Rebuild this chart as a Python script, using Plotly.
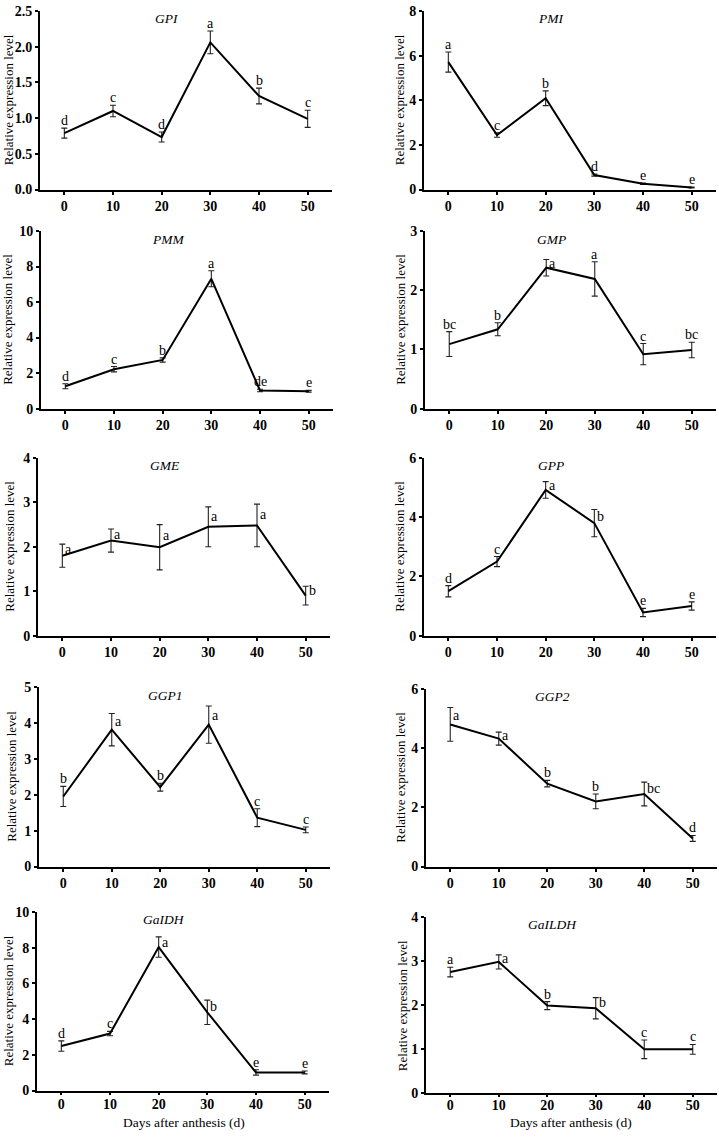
import plotly.graph_objects as go

DAYS = [0, 10, 20, 30, 40, 50]
GENES = ["GPI", "PMI", "PMM", "GMP", "GME", "GPP", "GGP1", "GGP2", "GaIDH", "GaILDH"]

GPI_MEAN = [0.79, 1.10, 0.735, 2.06, 1.31, 0.99]
GPI_ERR = [0.07, 0.08, 0.07, 0.16, 0.11, 0.12]
GPI_LET = ["d", "c", "d", "a", "b", "c"]
GPI_SIDE = ["t", "t", "t", "t", "t", "t"]

PMI_MEAN = [5.71, 2.44, 4.09, 0.65, 0.26, 0.09]
PMI_ERR = [0.45, 0.10, 0.33, 0.05, 0.03, 0.02]
PMI_LET = ["a", "c", "b", "d", "e", "e"]
PMI_SIDE = ["t", "t", "t", "t", "t", "t"]

PMM_MEAN = [1.26, 2.22, 2.74, 7.31, 1.02, 0.98]
PMM_ERR = [0.14, 0.15, 0.12, 0.45, 0.07, 0.05]
PMM_LET = ["d", "c", "b", "a", "de", "e"]
PMM_SIDE = ["t", "t", "t", "t", "t", "t"]

GMP_MEAN = [1.09, 1.34, 2.38, 2.19, 0.92, 0.99]
GMP_ERR = [0.21, 0.11, 0.14, 0.29, 0.18, 0.13]
GMP_LET = ["bc", "b", "a", "a", "c", "bc"]
GMP_SIDE = ["t", "t", "r", "t", "t", "t"]

GME_MEAN = [1.80, 2.14, 1.99, 2.45, 2.48, 0.90]
GME_ERR = [0.26, 0.26, 0.51, 0.45, 0.48, 0.21]
GME_LET = ["a", "a", "a", "a", "a", "b"]
GME_SIDE = ["r", "r", "r", "r", "r", "r"]

GPP_MEAN = [1.50, 2.50, 4.92, 3.80, 0.78, 1.00]
GPP_ERR = [0.19, 0.17, 0.28, 0.46, 0.14, 0.14]
GPP_LET = ["d", "c", "a", "b", "e", "e"]
GPP_SIDE = ["t", "t", "r", "r", "t", "t"]

GGP1_MEAN = [1.95, 3.81, 2.21, 3.95, 1.36, 1.02]
GGP1_ERR = [0.28, 0.45, 0.11, 0.52, 0.25, 0.08]
GGP1_LET = ["b", "a", "b", "a", "c", "c"]
GGP1_SIDE = ["t", "r", "t", "r", "t", "t"]

GGP2_MEAN = [4.80, 4.32, 2.80, 2.20, 2.45, 0.95]
GGP2_ERR = [0.57, 0.22, 0.11, 0.25, 0.40, 0.10]
GGP2_LET = ["a", "a", "b", "b", "bc", "d"]
GGP2_SIDE = ["r", "r", "t", "t", "r", "t"]

GALDH_MEAN = [2.49, 3.19, 8.03, 4.38, 1.01, 1.01]
GALDH_ERR = [0.29, 0.12, 0.57, 0.68, 0.15, 0.08]
GALDH_LET = ["d", "c", "a", "b", "e", "e"]
GALDH_SIDE = ["t", "t", "r", "r", "t", "t"]

GALLDH_MEAN = [2.75, 2.98, 1.99, 1.93, 1.00, 1.00]
GALLDH_ERR = [0.11, 0.16, 0.09, 0.24, 0.21, 0.11]
GALLDH_LET = ["a", "a", "b", "b", "c", "c"]
GALLDH_SIDE = ["t", "r", "t", "r", "t", "t"]

Y_MAX = [2.5, 8, 10, 3, 4, 6, 5, 6, 10, 4]
Y_DTICK = [0.5, 2, 2, 1, 1, 2, 1, 2, 2, 1]

MEANS = [GPI_MEAN, PMI_MEAN, PMM_MEAN, GMP_MEAN, GME_MEAN, GPP_MEAN,
         GGP1_MEAN, GGP2_MEAN, GALDH_MEAN, GALLDH_MEAN]
ERRS = [GPI_ERR, PMI_ERR, PMM_ERR, GMP_ERR, GME_ERR, GPP_ERR,
        GGP1_ERR, GGP2_ERR, GALDH_ERR, GALLDH_ERR]
LETS = [GPI_LET, PMI_LET, PMM_LET, GMP_LET, GME_LET, GPP_LET,
        GGP1_LET, GGP2_LET, GALDH_LET, GALLDH_LET]
SIDES = [GPI_SIDE, PMI_SIDE, PMM_SIDE, GMP_SIDE, GME_SIDE, GPP_SIDE,
         GGP1_SIDE, GGP2_SIDE, GALDH_SIDE, GALLDH_SIDE]

W, H = 719, 1138
# plot-area boxes in pixels: (left, right, top, bottom)
BOXES = [(40, 332, 4, 185), (424, 716, 4, 185),
         (41, 333, 227, 407), (425, 716, 227, 407),
         (38, 330, 457, 637), (424, 716, 457, 637),
         (39, 330, 689, 871), (426, 717, 691, 871),
         (37, 329, 917, 1098), (426, 717, 922, 1101)]
YT_X = [8, 399, 8, 401, 10, 400, 12, 401, 8, 402]
STANDOFF = {8: -2, 9: -4}

FONT = "Liberation Serif"

fig = go.Figure()
annotations = []
layout = {}
for i in range(10):
    ax = "" if i == 0 else str(i + 1)
    l, r, t, b = BOXES[i]
    fig.add_trace(go.Scatter(
        x=DAYS, y=MEANS[i], mode="lines",
        line=dict(color="black", width=2),
        error_y=dict(type="data", array=ERRS[i], visible=True,
                     color="#222", thickness=1.1, width=3),
        xaxis="x" + ax, yaxis="y" + ax, showlegend=False, hoverinfo="skip"))
    common = dict(showline=True, linecolor="black", linewidth=2,
                  ticks="outside", tickcolor="black", tickwidth=1.5, ticklen=3,
                  showgrid=False, zeroline=False,
                  tickfont=dict(family=FONT, size=14, color="black", weight="bold"))
    xdict = dict(common, domain=[l / W, r / W], range=[-5, 55],
                 tickvals=DAYS, anchor="y" + ax)
    if i in STANDOFF:
        xdict["ticklabelstandoff"] = STANDOFF[i]
        xdict["ticklen"] = 2
    layout["xaxis" + ax] = xdict
    ydict = dict(common, domain=[1 - b / H, 1 - t / H], range=[0, Y_MAX[i]],
                 dtick=Y_DTICK[i], tick0=0, anchor="x" + ax)
    if i == 0:
        ydict["tickformat"] = ".1f"
    layout["yaxis" + ax] = ydict
    # panel title
    annotations.append(dict(x=21, y=0.955, xref="x" + ax, yref="y" + ax + " domain",
                            text="<i>%s</i>" % GENES[i], showarrow=False,
                            font=dict(family=FONT, size=13.5, color="black"),
                            xanchor="center", yanchor="middle"))
    # y title
    annotations.append(dict(x=YT_X[i] / W, y=1 - (t + b) / 2 / H, xref="paper", yref="paper",
                            text="Relative expression level", textangle=-90, showarrow=False,
                            font=dict(family=FONT, size=13, color="black"),
                            xanchor="center", yanchor="middle"))
    # significance letters
    for d, m, e, lt, sd in zip(DAYS, MEANS[i], ERRS[i], LETS[i], SIDES[i]):
        if sd == "t":
            annotations.append(dict(x=d, y=m + e, xref="x" + ax, yref="y" + ax, text=lt,
                                    showarrow=False, xanchor="center", yanchor="bottom",
                                    yshift=-2,
                                    font=dict(family=FONT, size=14, color="black")))
        else:
            annotations.append(dict(x=d, y=m + e * 0.5, xref="x" + ax, yref="y" + ax, text=lt,
                                    showarrow=False, xanchor="left", yanchor="middle",
                                    xshift=1,
                                    font=dict(family=FONT, size=14, color="black")))

for xp in (184, 571):
    annotations.append(dict(x=xp / W, y=0, xref="paper", yref="paper",
                            text="Days after anthesis (d)", showarrow=False,
                            font=dict(family=FONT, size=13.5, color="black"),
                            xanchor="center", yanchor="bottom", yshift=-2))

fig.update_layout(width=W, height=H, margin=dict(l=0, r=0, t=0, b=0),
                  plot_bgcolor="white", paper_bgcolor="white",
                  font=dict(family=FONT),
                  annotations=annotations, **layout)
fig.write_html("out.html", config={"displayModeBar": False},
               post_script="document.body.style.margin='0';"
                           "document.body.style.overflow='hidden';")
